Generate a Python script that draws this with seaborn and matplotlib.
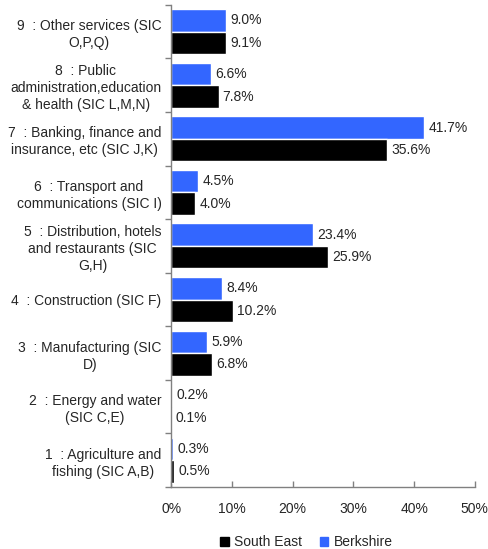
import matplotlib
matplotlib.use("Agg")
import matplotlib.pyplot as plt
from matplotlib.patches import Patch
from matplotlib.ticker import FixedLocator, PercentFormatter
import pandas as pd
import seaborn as sns

categories = [
    "9  : Other services (SIC\nO,P,Q)",
    "8  : Public\nadministration,education\n& health (SIC L,M,N)",
    "7  : Banking, finance and\ninsurance, etc (SIC J,K)",
    "6  : Transport and\ncommunications (SIC I)",
    "5  : Distribution, hotels\nand restaurants (SIC\nG,H)",
    "4  : Construction (SIC F)",
    "3  : Manufacturing (SIC\nD)",
    "2  : Energy and water\n(SIC C,E)",
    "1  : Agriculture and\nfishing (SIC A,B)",
]
berkshire = [9.0, 6.6, 41.7, 4.5, 23.4, 8.4, 5.9, 0.2, 0.3]
south_east = [9.1, 7.8, 35.6, 4.0, 25.9, 10.2, 6.8, 0.1, 0.5]

colors = {"Berkshire": "#3366FF", "South East": "#000000"}

df = pd.concat([
    pd.DataFrame({"cat": categories, "value": berkshire, "region": "Berkshire"}),
    pd.DataFrame({"cat": categories, "value": south_east, "region": "South East"}),
])

sns.set_style("white")
plt.rcParams["font.family"] = ["Liberation Sans", "DejaVu Sans"]
fs = 10

fig, ax = plt.subplots(figsize=(4.89, 5.49), dpi=100)
fig.subplots_adjust(left=0.35, right=0.971, top=0.991, bottom=0.113)

sns.barplot(data=df, y="cat", x="value", hue="region", order=categories,
            hue_order=["Berkshire", "South East"], palette=colors,
            orient="h", width=0.84, ax=ax, legend=False, saturation=1)

for cont in ax.containers:
    ax.bar_label(cont, fmt="%.1f%%", padding=3, fontsize=fs)

ax.set_xlim(0, 50)
ax.set_xticks([0, 10, 20, 30, 40, 50])
ax.xaxis.set_major_formatter(PercentFormatter(decimals=0))
ax.set_ylim(len(categories) - 0.5, -0.5)
ax.set_xlabel("")
ax.set_ylabel("")

ax.yaxis.set_minor_locator(FixedLocator([i - 0.5 for i in range(len(categories) + 1)]))
ax.tick_params(axis="y", which="major", length=0, pad=7, labelsize=fs)
ax.tick_params(axis="y", which="minor", length=4, width=1, color="#808080", direction="out", left=True)
ax.tick_params(axis="x", length=4, width=1, color="#808080", direction="in", bottom=True, labelsize=fs, pad=11)
for t in ax.get_yticklabels():
    t.set_multialignment("center")
    t.set_linespacing(1.28)

sns.despine(ax=ax)
for side in ["left", "bottom"]:
    ax.spines[side].set_color("#808080")
    ax.spines[side].set_linewidth(1)

handles = [Patch(color=colors["South East"], label="South East"),
           Patch(color=colors["Berkshire"], label="Berkshire")]
fig.legend(handles=handles, loc="center", bbox_to_anchor=(0.627, 0.012), ncol=2,
           frameon=False, fontsize=fs, handlelength=0.6, handleheight=0.6,
           handletextpad=0.4, columnspacing=1.3)

fig.savefig("out.png", dpi=100)
